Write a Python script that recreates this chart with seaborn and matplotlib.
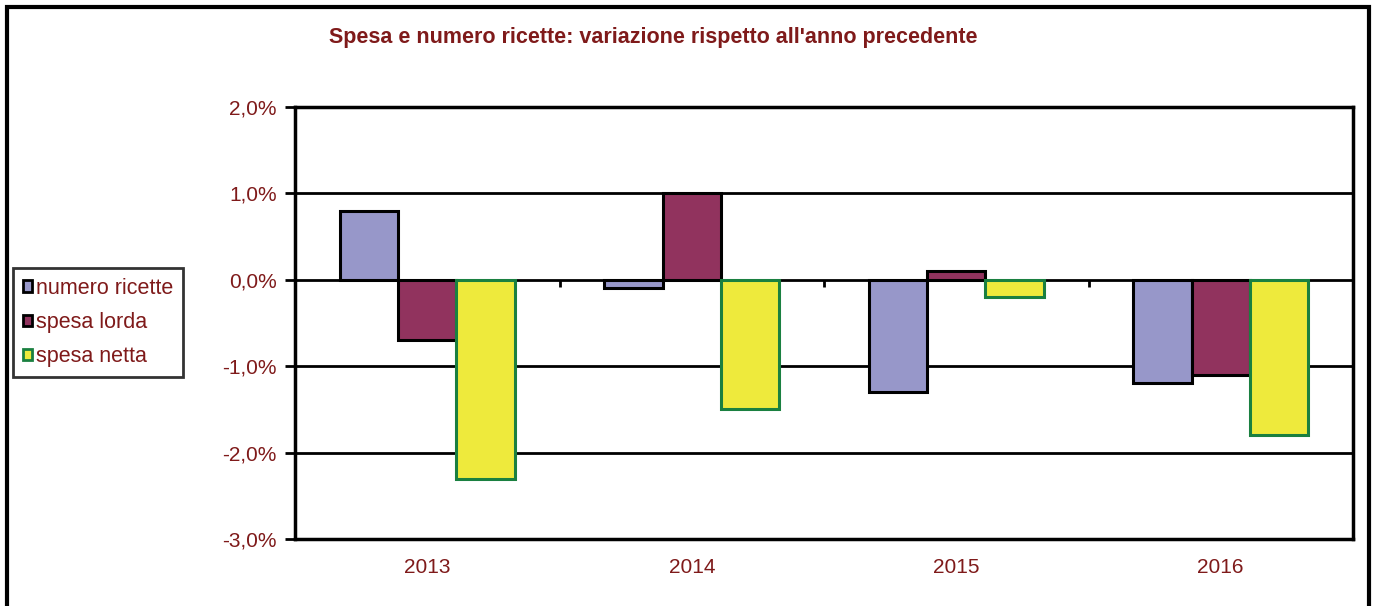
import matplotlib
matplotlib.use('Agg')
import matplotlib.pyplot as plt
from matplotlib.patches import Rectangle
import pandas as pd
import seaborn as sns

textcolor = '#7f1a1a'

years = ['2013', '2014', '2015', '2016']
numero_ricette = [0.8, -0.1, -1.3, -1.2]
spesa_lorda = [-0.7, 1.0, 0.1, -1.1]
spesa_netta = [-2.3, -1.5, -0.2, -1.8]
series = ['numero ricette', 'spesa lorda', 'spesa netta']
yticks = [2.0, 1.0, 0.0, -1.0, -2.0, -3.0]
ytick_labels = ['2,0%', '1,0%', '0,0%', '-1,0%', '-2,0%', '-3,0%']

colors = ['#9797c9', '#91335e', '#eeea3c']
edges = ['black', 'black', '#1a8040']

df = pd.DataFrame({
    'anno': years * 3,
    'serie': [s for s in series for _ in years],
    'valore': numero_ricette + spesa_lorda + spesa_netta,
})

sns.set_style('white')
plt.rcParams['font.family'] = ['Liberation Sans', 'DejaVu Sans']

fig = plt.figure(figsize=(13.77, 6.06), dpi=100)
ax = fig.add_axes([295 / 1377, 1 - 539 / 606, (1353 - 295) / 1377, (539 - 107) / 606])

sns.barplot(data=df, x='anno', y='valore', hue='serie', palette=colors,
            width=0.66, saturation=1, ax=ax, zorder=3)
for cont, ec in zip(ax.containers, edges):
    for bar in cont:
        bar.set_edgecolor(ec)
        bar.set_linewidth(2.2)

ax.set_ylim(-3.0, 2.0)
ax.set_xlim(-0.5, 3.5)
ax.set_yticks(yticks)
ax.set_yticklabels(ytick_labels)
for y in yticks:
    ax.axhline(y, color='black', lw=2, zorder=1)
ax.set_xlabel('')
ax.set_ylabel('')
for sp in ax.spines.values():
    sp.set_color('black')
    sp.set_linewidth(2.5)
ax.tick_params(axis='y', direction='out', length=7, width=2, color='black',
               labelcolor=textcolor, labelsize=15, pad=6, left=True)
ax.tick_params(axis='x', length=0, labelcolor=textcolor, labelsize=15, pad=14)

# category axis crossing at zero, tick marks between categories
ax2 = ax.twiny()
ax2.set_xlim(ax.get_xlim())
for side in ['top', 'left', 'right', 'bottom']:
    ax2.spines[side].set_visible(False)
ax2.spines['bottom'].set_position(('data', 0))
ax2.xaxis.set_ticks_position('bottom')
ax2.set_xticks([0.5, 1.5, 2.5, 3.5])
ax2.set_xticklabels([])
ax2.tick_params(axis='x', direction='out', length=5, width=2, color='black')

leg = ax.legend(loc='upper left', bbox_to_anchor=(13 / 1377, 1 - 268 / 606),
                bbox_transform=fig.transFigure, frameon=True, fancybox=False,
                fontsize=15.5, handlelength=0.45, handleheight=0.45, handletextpad=0.15,
                labelspacing=0.62, borderpad=0.45, borderaxespad=0)
leg.get_frame().set_edgecolor('black')
leg.get_frame().set_linewidth(2)
for t in leg.get_texts():
    t.set_color(textcolor)
for h, ec in zip(leg.legend_handles, edges):
    h.set_edgecolor(ec)
    h.set_linewidth(2)

fig.text(653 / 1377, 1 - 38 / 606,
         "Spesa e numero ricette: variazione rispetto all'anno precedente",
         ha='center', va='center', color=textcolor, fontsize=15.5, fontweight='bold')

fig.patches.append(Rectangle((7 / 1377, -0.1), (1369 - 7) / 1377, 1.1 - 7 / 606,
                             transform=fig.transFigure, fill=False,
                             edgecolor='black', lw=3, zorder=0))

fig.savefig('out.png', dpi=100)
